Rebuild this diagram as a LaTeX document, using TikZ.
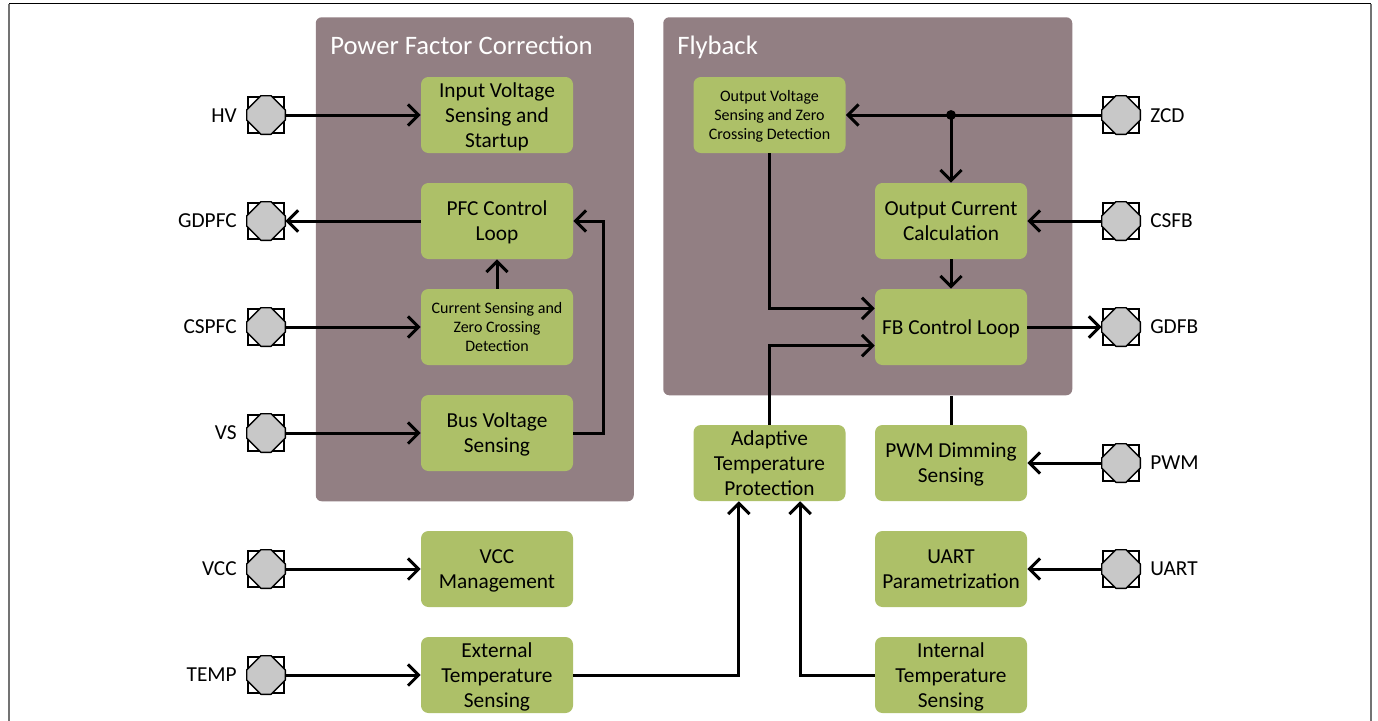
\documentclass[tikz,border=0pt]{standalone}
\usepackage{fontspec}
\setmainfont{Carlito}
\usetikzlibrary{arrows.meta,calc}
\definecolor{panelc}{HTML}{927F83}
\definecolor{boxc}{HTML}{ADC068}
\definecolor{padc}{HTML}{C8C8C8}
\tikzset{
  x=0.75pt,y=-0.75pt,
  panelbox/.style={fill=panelc,rounded corners=4.5pt,draw=none,inner sep=0pt,anchor=north west},
  funcbox/.style={fill=boxc,rounded corners=5.6pt,draw=none,inner sep=0pt,align=center,
     minimum width=114pt,minimum height=57pt,font=\fontsize{16}{18.8}\selectfont,text=black,text depth=0pt},
  smallbox/.style={funcbox,font=\fontsize{12}{14.25}\selectfont},
  padbox/.style={draw=black,line width=1.5pt,minimum size=27.5pt,inner sep=0pt,fill=white},
  padlabel/.style={font=\fontsize{16}{18}\selectfont,text=black,inner sep=0pt},
  paneltitle/.style={font=\fontsize{20}{22}\selectfont,text=white,inner sep=0pt,anchor=base west},
  link/.style={draw=black,line width=2.25pt,line join=miter},
  arr/.style={link,-{Straight Barb[length=8pt,width=16pt,line width=2.25pt]}},
}
\newcommand{\padnode}[3]{%
  \node[padbox] (#1) at (#2,#3) {};
  \draw[fill=padc,draw=black,line width=1pt,line join=round]
    ($(#1.north west)!0.37!(#1.north east)$) -- ($(#1.north west)!0.63!(#1.north east)$)
    -- ($(#1.north east)!0.37!(#1.south east)$) -- ($(#1.north east)!0.63!(#1.south east)$)
    -- ($(#1.south east)!0.37!(#1.south west)$) -- ($(#1.south east)!0.63!(#1.south west)$)
    -- ($(#1.south west)!0.37!(#1.north west)$) -- ($(#1.south west)!0.63!(#1.north west)$) -- cycle;
}
\begin{document}
\begin{tikzpicture}
\useasboundingbox (0,0) rectangle (1378,721);
\fill[white] (0,0) rectangle (1378,721);
% outer frame
\coordinate (ftl) at (9,3.5); \coordinate (ftr) at (1371,3.5);
\coordinate (fbl) at (9,721); \coordinate (fbr) at (1371,721);
\draw[draw=black!55,line width=1.5pt] (fbl) -- (ftl);
\draw[draw=black!55,line width=1.5pt] (fbr) -- (ftr);
\draw[draw=black,line width=1.1pt] (ftl) -- (ftr);
% panels
\node[panelbox,minimum width=238.5pt,minimum height=363pt] (pfc) at (315.5,17) {};
\node[panelbox,minimum width=306.75pt,minimum height=283.5pt] (fly) at (663,17) {};
\node[paneltitle] (pfct) at (330,54) {Power Factor Correction};
\node[paneltitle] (flyt) at (677,54) {Flyback};
% left column
\node[funcbox] (ivs) at (497,115) {Input Voltage\\Sensing and\\Startup};
\node[funcbox] (pfcl) at (497,221) {PFC Control\\Loop};
\node[smallbox] (csz) at (497,327) {Current Sensing and\\Zero Crossing\\Detection};
\node[funcbox] (bvs) at (497,433) {Bus Voltage\\Sensing};
\node[funcbox] (vccm) at (497,569) {VCC\\Management};
\node[funcbox] (ets) at (497,675) {External\\Temperature\\Sensing};
% middle column
\node[smallbox] (ovs) at (769.5,115) {Output Voltage\\Sensing and Zero\\Crossing Detection};
\node[funcbox] (atp) at (769.5,463) {Adaptive\\Temperature\\Protection};
% right column
\node[funcbox] (occ) at (951,221) {Output Current\\Calculation};
\node[funcbox] (fbl2) at (951,327) {FB Control Loop};
\node[funcbox] (pwms) at (951,463) {PWM Dimming\\Sensing};
\node[funcbox] (uartp) at (951,569) {UART\\Parametrization};
\node[funcbox] (its) at (951,675) {Internal\\Temperature\\Sensing};
% pads
\padnode{phv}{266}{115}
\padnode{pgdpfc}{266}{221}
\padnode{pcspfc}{266}{327}
\padnode{pvs}{266}{433}
\padnode{pvcc}{266}{569}
\padnode{ptemp}{266}{675}
\padnode{pzcd}{1121}{115}
\padnode{pcsfb}{1121}{221}
\padnode{pgdfb}{1121}{327}
\padnode{ppwm}{1121}{463}
\padnode{puart}{1121}{569}
% pad labels
\node[padlabel,anchor=east] (lhv) at (237,115.5) {HV};
\node[padlabel,anchor=east] (lgdpfc) at (237,221) {GDPFC};
\node[padlabel,anchor=east] (lcspfc) at (237,327) {CSPFC};
\node[padlabel,anchor=east] (lvs) at (237,433) {VS};
\node[padlabel,anchor=east] (lvcc) at (237,569) {VCC};
\node[padlabel,anchor=east] (ltemp) at (237,675) {TEMP};
\node[padlabel,anchor=west] (lzcd) at (1150,115.5) {ZCD};
\node[padlabel,anchor=west] (lcsfb) at (1150,221) {CSFB};
\node[padlabel,anchor=west] (lgdfb) at (1150,327) {GDFB};
\node[padlabel,anchor=west] (lpwm) at (1150,463) {PWM};
\node[padlabel,anchor=west] (luart) at (1150,569) {UART};
% connectors left
\draw[arr] (phv.east) -- (ivs.west);
\draw[arr] (pfcl.west) -- (pgdpfc.east);
\draw[arr] (pcspfc.east) -- (csz.west);
\draw[arr] (pvs.east) -- (bvs.west);
\draw[arr] (pvcc.east) -- (vccm.west);
\draw[arr] (ptemp.east) -- (ets.west);
\draw[arr] (csz.north) -- (pfcl.south);
\draw[arr] (bvs.east) -- ++(30,0) |- (pfcl.east);
% connectors to adaptive temperature
\draw[arr] (ets.east) -| ([xshift=-22.9pt]atp.south);
\draw[arr] (its.west) -| ([xshift=22.9pt]atp.south);
\draw[arr] (atp.north) |- ([yshift=-14pt]fbl2.west);
% flyback
\coordinate (zj) at (occ.north |- pzcd.west);
\draw[arr] (pzcd.west) -- (ovs.east);
\draw[arr] (zj) -- (occ.north);
\fill[black] (zj) circle (3.7pt);
\draw[arr] (pcsfb.west) -- (occ.east);
\draw[arr] (occ.south) -- (fbl2.north);
\draw[arr] (fbl2.east) -- (pgdfb.west);
\draw[arr] (ovs.south) |- ([yshift=14pt]fbl2.west);
\draw[arr] (ppwm.west) -- (pwms.east);
\draw[arr] (puart.west) -- (uartp.east);
\draw[link] (pwms.north) -- (pwms.north |- fly.south);
\end{tikzpicture}
\end{document}
